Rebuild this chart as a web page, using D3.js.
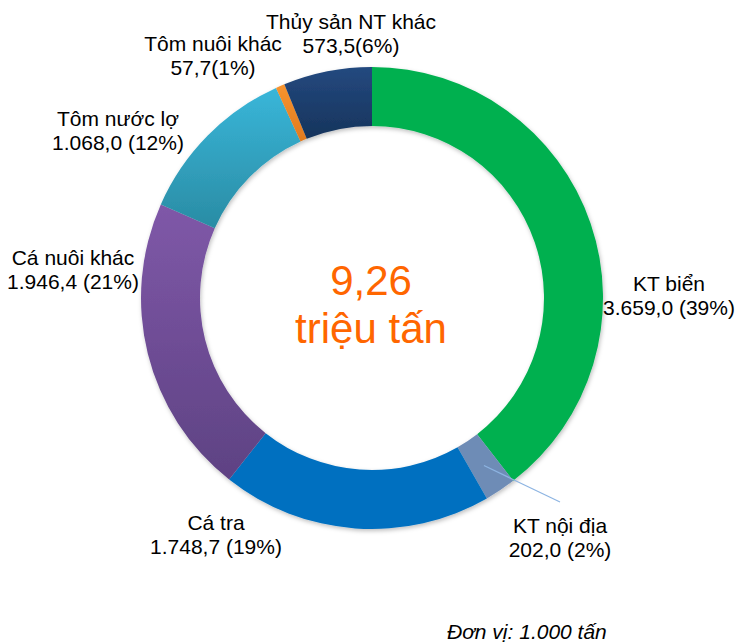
<!DOCTYPE html>
<html>
<head>
<meta charset="utf-8">
<script src="https://cdn.jsdelivr.net/npm/d3@7"></script>
<style>
  body { margin: 0; background: #fff; }
  svg { font-family: "Liberation Sans", Arial, sans-serif; }
</style>
</head>
<body>
<div id="chart"></div>
<script>
// data (đơn vị: 1.000 tấn)
const categories = ["KT biển", "KT nội địa", "Cá tra", "Cá nuôi khác", "Tôm nước lợ", "Tôm nuôi khác", "Thủy sản NT khác"];
const values = [3659.0, 202.0, 1748.7, 1946.4, 1068.0, 57.7, 573.5];
const valueLabels = ["3.659,0 (39%)", "202,0 (2%)", "1.748,7 (19%)", "1.946,4 (21%)", "1.068,0 (12%)", "57,7(1%)", "573,5(6%)"];
const centerLines = ["9,26", "triệu tấn"];
const unitNote = "Đơn vị: 1.000 tấn";

// slice fills: [top, bottom] of vertical gradient
const fills = [
    ["#00B050", "#00B050"],
    ["#6E8CB6", "#6E8CB6"],
    ["#0070C0", "#0070C0"],
    ["#7F58A8", "#5E4283"],
    ["#39B6D9", "#2A8CA4"],
    ["#F7942F", "#E27A1E"],
    ["#24497F", "#16345C"]
];

// label layout: centre x, first baseline y (page px)
const labelPos = [
    [669, 291], [560, 533], [216, 530], [73, 265], [118, 126], [213, 51], [351, 29]
];

const width = 738, height = 644;
const cx = 372, cy = 298;
const outerR = 231, innerR = 172;

const svg = d3.select("#chart").append("svg")
    .attr("width", width)
    .attr("height", height);

const defs = svg.append("defs");

fills.forEach((f, i) => {
    const g = defs.append("linearGradient")
        .attr("id", "grad" + i)
        .attr("x1", 0).attr("y1", 0).attr("x2", 0).attr("y2", 1);
    g.append("stop").attr("offset", "0%").attr("stop-color", f[0]);
    g.append("stop").attr("offset", "100%").attr("stop-color", f[1]);
});

const shadow = defs.append("filter").attr("id", "shadow")
    .attr("x", "-10%").attr("y", "-10%").attr("width", "120%").attr("height", "120%");
shadow.append("feDropShadow")
    .attr("dx", 1).attr("dy", 2).attr("stdDeviation", 2)
    .attr("flood-color", "#000").attr("flood-opacity", 0.25);

const pie = d3.pie().sort(null).value(d => d);
const arcs = pie(values);

const arc = d3.arc().innerRadius(innerR).outerRadius(outerR);

const ring = svg.append("g")
    .attr("transform", `translate(${cx},${cy})`)
    .attr("filter", "url(#shadow)");

ring.selectAll("path")
    .data(arcs)
    .join("path")
    .attr("d", arc)
    .attr("fill", (d, i) => `url(#grad${i})`);

// leader line for the small inland-catch slice
const c = arc.centroid(arcs[1]);
svg.append("line")
    .attr("x1", cx + c[0]).attr("y1", cy + c[1])
    .attr("x2", labelPos[1][0]).attr("y2", labelPos[1][1] - 31)
    .attr("stroke", "#8DB4E2")
    .attr("stroke-width", 1.2);

// data labels
const labels = svg.append("g")
    .attr("font-size", "21px")
    .attr("fill", "#000")
    .attr("text-anchor", "middle");

categories.forEach((name, i) => {
    const t = labels.append("text")
        .attr("x", labelPos[i][0])
        .attr("y", labelPos[i][1]);
    t.append("tspan").attr("x", labelPos[i][0]).text(name);
    t.append("tspan").attr("x", labelPos[i][0]).attr("dy", 24).text(valueLabels[i]);
});

// centre total
svg.append("g")
    .attr("fill", "#FF6600")
    .attr("font-size", "42px")
    .attr("text-anchor", "middle")
    .selectAll("text")
    .data(centerLines)
    .join("text")
    .attr("x", cx - 1)
    .attr("y", (d, i) => cy - 3 + i * 48)
    .text(d => d);

svg.append("text")
    .attr("x", 447)
    .attr("y", 639)
    .attr("font-size", "21px")
    .attr("font-style", "italic")
    .attr("fill", "#000")
    .text(unitNote);
</script>
</body>
</html>
